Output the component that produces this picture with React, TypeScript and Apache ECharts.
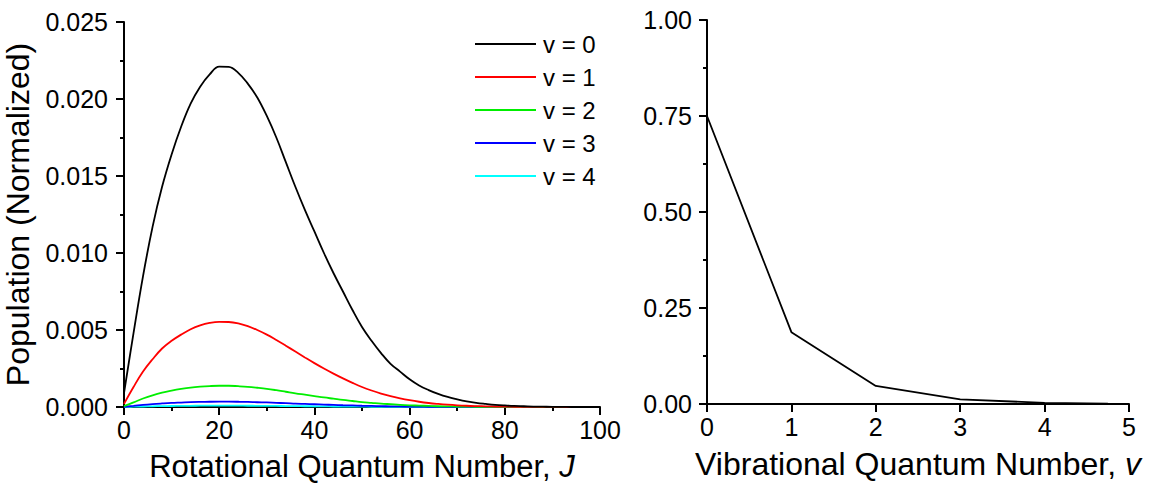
import React, { useEffect, useRef } from "react";
import * as echarts from "echarts";

// Rotational quantum number J (step 2)
const J_VALUES: number[] = [
  0, 2, 4, 6, 8, 10, 12, 14, 16, 18,
  20, 22, 24, 26, 28, 30, 32, 34, 36, 38,
  40, 42, 44, 46, 48, 50, 52, 54, 56, 58,
  60, 62, 64, 66, 68, 70, 72, 74, 76, 78,
  80, 82, 84, 86, 88, 90, 92, 94, 96, 98,
  100,
];

const POP_V0: number[] = [
  0.0009, 0.0048, 0.0085, 0.0117, 0.0143, 0.0164, 0.0182, 0.0197, 0.0208, 0.0216,
  0.0221, 0.02208, 0.0217, 0.021, 0.0201, 0.0189, 0.0175, 0.0159, 0.0143, 0.0128,
  0.0114, 0.01, 0.0087, 0.0075, 0.0063, 0.0052, 0.0043, 0.0035, 0.0028, 0.0023,
  0.0018, 0.0014, 0.0011, 0.00085, 0.00065, 0.0005, 0.00037, 0.00027, 0.0002, 0.00014,
  0.0001, 0.00007, 0.00005, 0.00003, 0.00002, 0.00001, 0.00001, 0, 0, 0,
  0,
];

const POP_V1: number[] = [
  0.0002, 0.0013, 0.0023, 0.0031, 0.0038, 0.0043, 0.0047, 0.00505, 0.0053, 0.00546,
  0.00553, 0.00552, 0.00543, 0.00525, 0.005, 0.0047, 0.00435, 0.00398, 0.0036, 0.00322,
  0.00285, 0.0025, 0.00217, 0.00186, 0.00157, 0.0013, 0.00107, 0.00087, 0.0007, 0.00056,
  0.00044, 0.00034, 0.00026, 0.0002, 0.00015, 0.00011, 0.00008, 0.00006, 0.000045, 0.000033,
  0.000024, 0.000017, 0.000012, 0.000008, 0.000005, 0.000003, 0.000002, 0, 0, 0,
  0,
];

const POP_V2: number[] = [
  0.00006, 0.0003, 0.00055, 0.00076, 0.00093, 0.00106, 0.00117, 0.00126, 0.00132, 0.00136,
  0.00138, 0.00138, 0.00135, 0.00131, 0.00125, 0.00118, 0.00109, 0.00099, 0.00089, 0.0008,
  0.00071, 0.00062, 0.00054, 0.00046, 0.00039, 0.00032, 0.00027, 0.00022, 0.00018, 0.00014,
  0.00011, 0.00009, 0.00007, 0.00005, 0.00004, 0.00003, 0.000023, 0.000017, 0.000012, 0.000009,
  0.000006, 0.000004, 0.000003, 0.000002, 0.000001, 0, 0, 0, 0, 0,
  0,
];

const POP_V3: number[] = [
  0.000015, 0.000075, 0.00014, 0.00019, 0.00023, 0.000265, 0.00029, 0.000315, 0.00033, 0.00034,
  0.000345, 0.000345, 0.00034, 0.00033, 0.00031, 0.000295, 0.00027, 0.00025, 0.00022, 0.0002,
  0.00018, 0.000155, 0.000135, 0.000115, 0.0001, 0.00008, 0.000068, 0.000055, 0.000045, 0.000035,
  0.000028, 0.000022, 0.000017, 0.000013, 0.00001, 0.000008, 0.000006, 0.000004, 0.000003, 0.000002,
  0.000002, 0.000001, 0.000001, 0, 0, 0, 0, 0, 0, 0,
  0,
];

const POP_V4: number[] = [
  0.000004, 0.000019, 0.000034, 0.000047, 0.000058, 0.000066, 0.000073, 0.000079, 0.000083, 0.000085,
  0.000086, 0.000086, 0.000085, 0.000082, 0.000078, 0.000074, 0.000068, 0.000062, 0.000056, 0.00005,
  0.000045, 0.000039, 0.000034, 0.000029, 0.000025, 0.00002, 0.000017, 0.000014, 0.000011, 0.000009,
  0.000007, 0.000005, 0.000004, 0.000003, 0.000003, 0.000002, 0.000001, 0.000001, 0.000001, 0,
  0, 0, 0, 0, 0, 0, 0, 0, 0, 0,
  0,
];

const SERIES_NAMES: string[] = ["v = 0", "v = 1", "v = 2", "v = 3", "v = 4"];
const SERIES_COLORS: string[] = ["#000000", "#ff0000", "#00ee00", "#0000ff", "#00ffff"];

// Vibrational population
const V_VALUES: number[] = [0, 1, 2, 3, 4, 4.75];
const VIB_POP: number[] = [0.75, 0.187, 0.047, 0.012, 0.003, 0.0008];

const FONT = "'Liberation Sans', Arial, sans-serif";

export default function App() {
  const ref = useRef<HTMLDivElement>(null);

  useEffect(() => {
    if (!ref.current) return;
    const chart = echarts.init(ref.current, undefined, { renderer: "svg" });

    const rotData = [POP_V0, POP_V1, POP_V2, POP_V3, POP_V4];

    const axisCommon = {
      axisLine: { show: true, lineStyle: { color: "#000", width: 2 } },
      axisTick: { show: true, length: 8, lineStyle: { color: "#000", width: 2 } },
      minorTick: { show: true, splitNumber: 2, length: 4, lineStyle: { color: "#000", width: 2 } },
      splitLine: { show: false },
      minorSplitLine: { show: false },
    };

    const titleStyle = (size: number) => ({
      color: "#000",
      fontSize: size,
      fontFamily: FONT,
      rich: { i: { fontStyle: "italic", fontSize: size, fontFamily: FONT, color: "#000" } },
    });

    const option: any = {
      animation: false,
      backgroundColor: "#ffffff",
      textStyle: { fontFamily: FONT },
      grid: [
        { left: 124, top: 22, width: 476, height: 385 },
        { left: 707, top: 20, width: 422, height: 384 },
      ],
      legend: {
        data: SERIES_NAMES,
        orient: "vertical",
        left: 470,
        top: 27,
        icon: "rect",
        itemWidth: 61,
        itemHeight: 2,
        itemGap: 9,
        textStyle: { fontFamily: FONT, fontSize: 24, color: "#000", lineHeight: 24, padding: [0, 0, 0, 2] },
      },
      xAxis: [
        {
          gridIndex: 0,
          type: "value",
          min: 0,
          max: 100,
          interval: 20,
          ...axisCommon,
          axisLabel: { color: "#000", fontSize: 25, fontFamily: FONT, margin: 10 },
          name: "Rotational Quantum Number, {i|J}",
          nameLocation: "middle",
          nameGap: 44,
          nameTextStyle: titleStyle(31),
        },
        {
          gridIndex: 1,
          type: "value",
          min: 0,
          max: 5,
          interval: 1,
          ...axisCommon,
          minorTick: { show: false },
          axisLabel: { color: "#000", fontSize: 25, fontFamily: FONT, margin: 10 },
          name: "Vibrational Quantum Number, {i|v}",
          nameLocation: "middle",
          nameGap: 44,
          nameTextStyle: titleStyle(32),
        },
      ],
      yAxis: [
        {
          gridIndex: 0,
          type: "value",
          min: 0,
          max: 0.025,
          interval: 0.005,
          ...axisCommon,
          axisLabel: {
            color: "#000",
            fontSize: 25,
            fontFamily: FONT,
            margin: 16,
            formatter: (v: number) => v.toFixed(3),
          },
          name: "Population (Normalized)",
          nameLocation: "middle",
          nameGap: 90,
          nameTextStyle: { color: "#000", fontSize: 32, fontFamily: FONT },
        },
        {
          gridIndex: 1,
          type: "value",
          min: 0,
          max: 1,
          interval: 0.25,
          ...axisCommon,
          axisLabel: {
            color: "#000",
            fontSize: 25,
            fontFamily: FONT,
            margin: 15,
            formatter: (v: number) => v.toFixed(2),
          },
        },
      ],
      series: [
        ...rotData.map((arr, i) => ({
          name: SERIES_NAMES[i],
          type: "line",
          xAxisIndex: 0,
          yAxisIndex: 0,
          data: J_VALUES.map((j, k) => [j, arr[k]]),
          showSymbol: false,
          smooth: 0.4,
          color: SERIES_COLORS[i],
          lineStyle: { color: SERIES_COLORS[i], width: 1.8 },
          z: 10 - i,
        })),
        {
          name: "vib",
          type: "line",
          xAxisIndex: 1,
          yAxisIndex: 1,
          data: V_VALUES.map((v, k) => [v, VIB_POP[k]]),
          showSymbol: false,
          color: "#000",
          lineStyle: { color: "#000", width: 1.8 },
        },
      ],
    };

    chart.setOption(option);
    return () => chart.dispose();
  }, []);

  return (
    <div
      ref={ref}
      style={{ position: "fixed", left: 0, top: 0, width: 1155, height: 487, background: "#fff" }}
    />
  );
}
